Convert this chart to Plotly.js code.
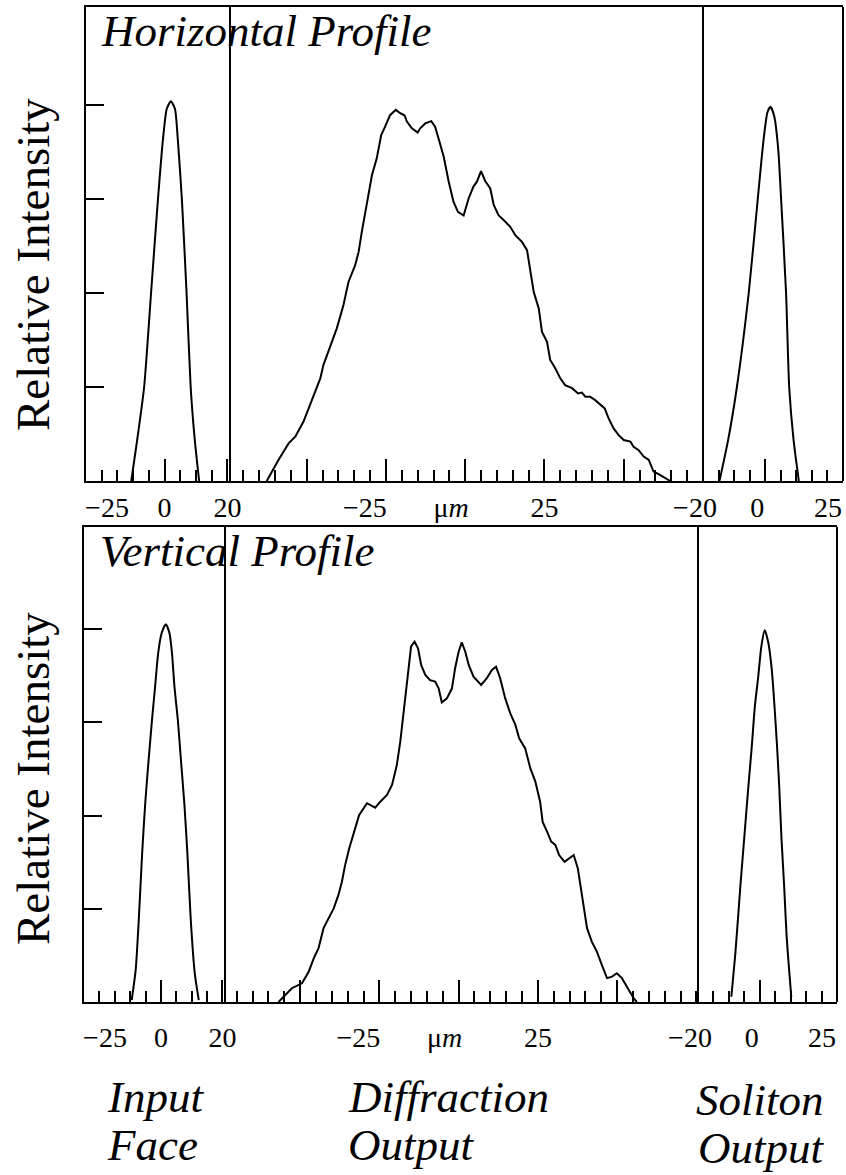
<!DOCTYPE html>
<html>
<head>
<meta charset="utf-8">
<script src="https://cdn.plot.ly/plotly-3.0.1.min.js"></script>
<style>html,body{margin:0;padding:0;background:#fff;}#chart{width:846px;height:1175px;}</style>
</head>
<body>
<div id="chart"></div>
<script>
// ---------- data (µm, relative intensity) ----------
const topInputX = [-10.6,-8.7,-6.5,-4.3,-2.1,-0.5,0.7,2.0,3.3,4.2,5.5,7.0,8.3,9.6,11.0];
const topInputY = [0,0.11,0.25,0.5,0.75,0.91,0.99,1.01,0.99,0.91,0.75,0.5,0.25,0.11,0];

const topDiffX = [-62.6,-58.9,-55.7,-53.6,-51.0,-47.8,-45.7,-44.7,-43.1,-40.5,-38.4,-36.8,-34.7,-33.6,-32.6,-31.0,-29.4,-27.9,-26.5,-25.3,-23.7,-21.9,-20.5,-19.1,-18.4,-16.8,-15.0,-14.2,-12.6,-10.7,-9.5,-8.4,-6.8,-5.2,-3.7,-2.3,-0.5,1.1,2.6,3.7,5.0,6.3,7.9,9.0,10.5,12.6,14.2,15.8,17.9,19.5,20.5,21.6,23.2,24.2,25.8,26.8,28.4,30.0,31.5,33.7,35.6,36.8,37.9,39.4,41.0,42.6,44.0,45.2,46.8,48.4,50.0,52.1,53.1,54.7,56.3,57.9,59.4,61.0,63.1,64.7];
const topDiffY = [0,0.056,0.100,0.118,0.158,0.229,0.273,0.309,0.344,0.406,0.468,0.530,0.574,0.610,0.663,0.743,0.814,0.858,0.920,0.942,0.973,0.987,0.978,0.972,0.956,0.938,0.927,0.938,0.951,0.957,0.942,0.911,0.863,0.796,0.743,0.716,0.706,0.752,0.783,0.796,0.824,0.798,0.778,0.734,0.707,0.690,0.676,0.654,0.636,0.614,0.557,0.503,0.459,0.397,0.370,0.322,0.300,0.273,0.255,0.247,0.233,0.235,0.224,0.224,0.215,0.204,0.193,0.167,0.140,0.122,0.109,0.105,0.091,0.082,0.065,0.056,0.025,0.018,0.009,0];

const topSolitonX = [-14.7,-11.9,-9.1,-5.3,-2.4,-0.5,0.7,1.7,2.9,4.2,5.1,6.7,7.7,9.1,10.8];
const topSolitonY = [0,0.11,0.25,0.5,0.75,0.91,0.98,0.995,0.97,0.88,0.75,0.5,0.25,0.11,0];

const botInputX = [-9.5,-8.2,-7.2,-6.1,-5.1,-4.0,-2.9,-1.9,-0.9,0.2,1.6,2.8,3.6,4.4,5.5,6.5,7.6,8.6,9.7,11.0,12.3];
const botInputY = [0.005,0.086,0.22,0.399,0.533,0.649,0.756,0.845,0.935,0.988,1.013,0.988,0.935,0.845,0.756,0.649,0.533,0.399,0.22,0.077,0.005];

const botDiffX = [-56.8,-54.7,-52.6,-49.4,-47.3,-45.7,-44.2,-42.6,-41.0,-39.4,-37.9,-36.8,-35.8,-34.5,-33.1,-31.4,-28.9,-26.3,-24.7,-22.6,-21.0,-19.5,-18.4,-16.8,-15.8,-15.0,-13.9,-12.8,-11.8,-10.5,-9.0,-7.4,-6.3,-5.3,-3.7,-2.1,-1.1,0,1.0,2.1,3.2,4.7,7.1,8.9,10.5,11.8,13.1,14.7,16.3,17.9,19.1,21.0,22.6,24.2,25.7,26.5,27.9,29.2,30.5,31.7,33.4,34.9,36.3,37.6,38.9,40.5,42.0,43.6,45.2,46.8,48.4,49.9,51.5,53.6,55.2,56.2];
const botDiffY = [0,0.019,0.037,0.050,0.081,0.117,0.144,0.198,0.224,0.251,0.287,0.323,0.367,0.412,0.452,0.501,0.533,0.521,0.537,0.555,0.582,0.635,0.698,0.823,0.903,0.953,0.966,0.948,0.903,0.877,0.863,0.859,0.841,0.803,0.814,0.841,0.895,0.939,0.964,0.939,0.903,0.872,0.850,0.868,0.890,0.899,0.868,0.814,0.774,0.743,0.707,0.680,0.627,0.591,0.537,0.483,0.457,0.430,0.421,0.394,0.376,0.385,0.394,0.358,0.287,0.198,0.162,0.135,0.099,0.064,0.068,0.077,0.064,0.032,0.010,0];

const botSolitonX = [-9.2,-7.9,-6.3,-5.0,-3.7,-2.6,-1.6,-0.5,0.5,1.6,2.8,3.9,4.7,5.6,6.3,7.0,7.9,8.7,9.5,10.2];
const botSolitonY = [0.014,0.131,0.309,0.443,0.577,0.684,0.792,0.872,0.953,0.997,0.962,0.890,0.801,0.684,0.577,0.443,0.309,0.175,0.086,0.014];

// ---------- tick labels (spacing characters only nudge label placement like the original) ----------
const EM = '\u2003', EN = '\u2002';
const inputTickVals = [-25, 0, 20];
const inputTickText = [EM + EN + '\u221225', '0', '20'];
const diffTickVals = [-50, -25, 0, 25, 50];
const diffTickText = ['', '\u221225' + EM + EN, '\u03bc<i>m</i>' + EM, '25', ''];
const solitonTickVals = [-20, 0, 25];
const solitonTickText = [EN + '\u221220', EN + '0', '25'];
const yTickVals = [0.25, 0.5, 0.75, 1.0];

// ---------- layout helpers ----------
const W = 846, H = 1175;
const fx = px => px / W;
const fy = py => 1 - py / H;
const SERIF = 'Liberation Serif, Times New Roman, serif';

function line(x, y, xa, ya, smooth) {
  return {x: x, y: y, xaxis: xa, yaxis: ya, type: 'scatter', mode: 'lines',
          line: smooth ? {color: '#000', width: 2, shape: 'spline', smoothing: 0.6} : {color: '#000', width: 2},
          hoverinfo: 'skip'};
}
const data = [
  line(topInputX, topInputY, 'x', 'y', true),
  line(topDiffX, topDiffY, 'x2', 'y', false),
  line(topSolitonX, topSolitonY, 'x3', 'y', true),
  line(botInputX, botInputY, 'x4', 'y2', true),
  line(botDiffX, botDiffY, 'x5', 'y2', false),
  line(botSolitonX, botSolitonY, 'x6', 'y2', true)
];

function xax(domainPx, range, vals, text, anchor, standoff, shift) {
  return {
    domain: [fx(domainPx[0]), fx(domainPx[1])], range: range, anchor: anchor,
    showline: true, linecolor: '#000', linewidth: 2, mirror: true,
    showgrid: false, zeroline: false, fixedrange: true,
    tickmode: 'array', tickvals: vals, ticktext: text,
    ticks: 'inside', ticklen: 22, tickwidth: 2, tickcolor: '#000',
    ticklabelstandoff: standoff, ticklabelshift: shift || 0, ticklabeloverflow: 'allow',
    minor: {tickmode: 'linear', tick0: 0, dtick: 5, ticks: 'inside', ticklen: 11, tickwidth: 2, tickcolor: '#000', showgrid: false},
    tickfont: {family: SERIF, size: 28, color: '#000'}
  };
}
function yax(domainPy, range, anchor) {
  return {
    domain: [fy(domainPy[0]), fy(domainPy[1])], range: range, anchor: anchor,
    showline: true, linecolor: '#000', linewidth: 2, mirror: true,
    showgrid: false, zeroline: false, fixedrange: true,
    tickmode: 'array', tickvals: yTickVals, showticklabels: false,
    ticks: 'inside', ticklen: 18, tickwidth: 2, tickcolor: '#000'
  };
}

const layout = {
  width: W, height: H, margin: {l: 0, r: 0, t: 0, b: 0},
  paper_bgcolor: '#fff', plot_bgcolor: 'rgba(0,0,0,0)', showlegend: false,
  font: {family: SERIF, color: '#000'},
  xaxis:  xax([86, 229], [-25, 20.5], inputTickVals, inputTickText, 'y', 0),
  xaxis2: xax([229, 703], [-74.5, 75], diffTickVals, diffTickText, 'y', 0),
  xaxis3: xax([703, 843], [-20, 25], solitonTickVals, solitonTickText, 'y', 0, -15),
  xaxis4: xax([84, 224], [-25, 20.5], inputTickVals, inputTickText, 'y2', 9),
  xaxis5: xax([224, 698], [-74, 75.5], diffTickVals, diffTickText, 'y2', 9),
  xaxis6: xax([698, 837], [-20, 25], solitonTickVals, solitonTickText, 'y2', 9, -15),
  yaxis:  yax([481, 7], [0, 1.2606], 'x'),
  yaxis2: yax([1002, 527], [0, 1.2735], 'x4'),
  shapes: [
    {type: 'line', xref: 'x2 domain', yref: 'y domain', x0: 1, x1: 1, y0: 0, y1: 1, line: {color: '#000', width: 2}},
    {type: 'line', xref: 'x3 domain', yref: 'y domain', x0: 1, x1: 1, y0: 0, y1: 1, line: {color: '#000', width: 2}},
    {type: 'line', xref: 'x5 domain', yref: 'y2 domain', x0: 1, x1: 1, y0: 0, y1: 1, line: {color: '#000', width: 2}},
    {type: 'line', xref: 'x6 domain', yref: 'y2 domain', x0: 1, x1: 1, y0: 0, y1: 1, line: {color: '#000', width: 2}}
  ],
  annotations: [
    {text: 'Horizontal Profile', x: fx(99), y: fy(31), xref: 'paper', yref: 'paper', xanchor: 'left', yanchor: 'middle', showarrow: false, font: {family: SERIF, size: 45, style: 'italic'}},
    {text: 'Vertical Profile', x: fx(98), y: fy(551), xref: 'paper', yref: 'paper', xanchor: 'left', yanchor: 'middle', showarrow: false, font: {family: SERIF, size: 45, style: 'italic'}},
    {text: 'Relative Intensity', x: fx(33), y: fy(265), xref: 'paper', yref: 'paper', xanchor: 'center', yanchor: 'middle', textangle: -90, showarrow: false, font: {family: SERIF, size: 47}},
    {text: 'Relative Intensity', x: fx(33), y: fy(779), xref: 'paper', yref: 'paper', xanchor: 'center', yanchor: 'middle', textangle: -90, showarrow: false, font: {family: SERIF, size: 47}},
    {text: 'Input', x: fx(105), y: fy(1097), xref: 'paper', yref: 'paper', xanchor: 'left', yanchor: 'middle', showarrow: false, font: {family: SERIF, size: 45, style: 'italic'}},
    {text: 'Face', x: fx(105), y: fy(1145), xref: 'paper', yref: 'paper', xanchor: 'left', yanchor: 'middle', showarrow: false, font: {family: SERIF, size: 45, style: 'italic'}},
    {text: 'Diffraction', x: fx(346), y: fy(1097), xref: 'paper', yref: 'paper', xanchor: 'left', yanchor: 'middle', showarrow: false, font: {family: SERIF, size: 45, style: 'italic'}},
    {text: 'Output', x: fx(346), y: fy(1145), xref: 'paper', yref: 'paper', xanchor: 'left', yanchor: 'middle', showarrow: false, font: {family: SERIF, size: 45, style: 'italic'}},
    {text: 'Soliton', x: fx(694), y: fy(1100), xref: 'paper', yref: 'paper', xanchor: 'left', yanchor: 'middle', showarrow: false, font: {family: SERIF, size: 45, style: 'italic'}},
    {text: 'Output', x: fx(696), y: fy(1148), xref: 'paper', yref: 'paper', xanchor: 'left', yanchor: 'middle', showarrow: false, font: {family: SERIF, size: 45, style: 'italic'}}
  ]
};

Plotly.newPlot('chart', data, layout, {staticPlot: true, displayModeBar: false});
</script>
</body>
</html>
